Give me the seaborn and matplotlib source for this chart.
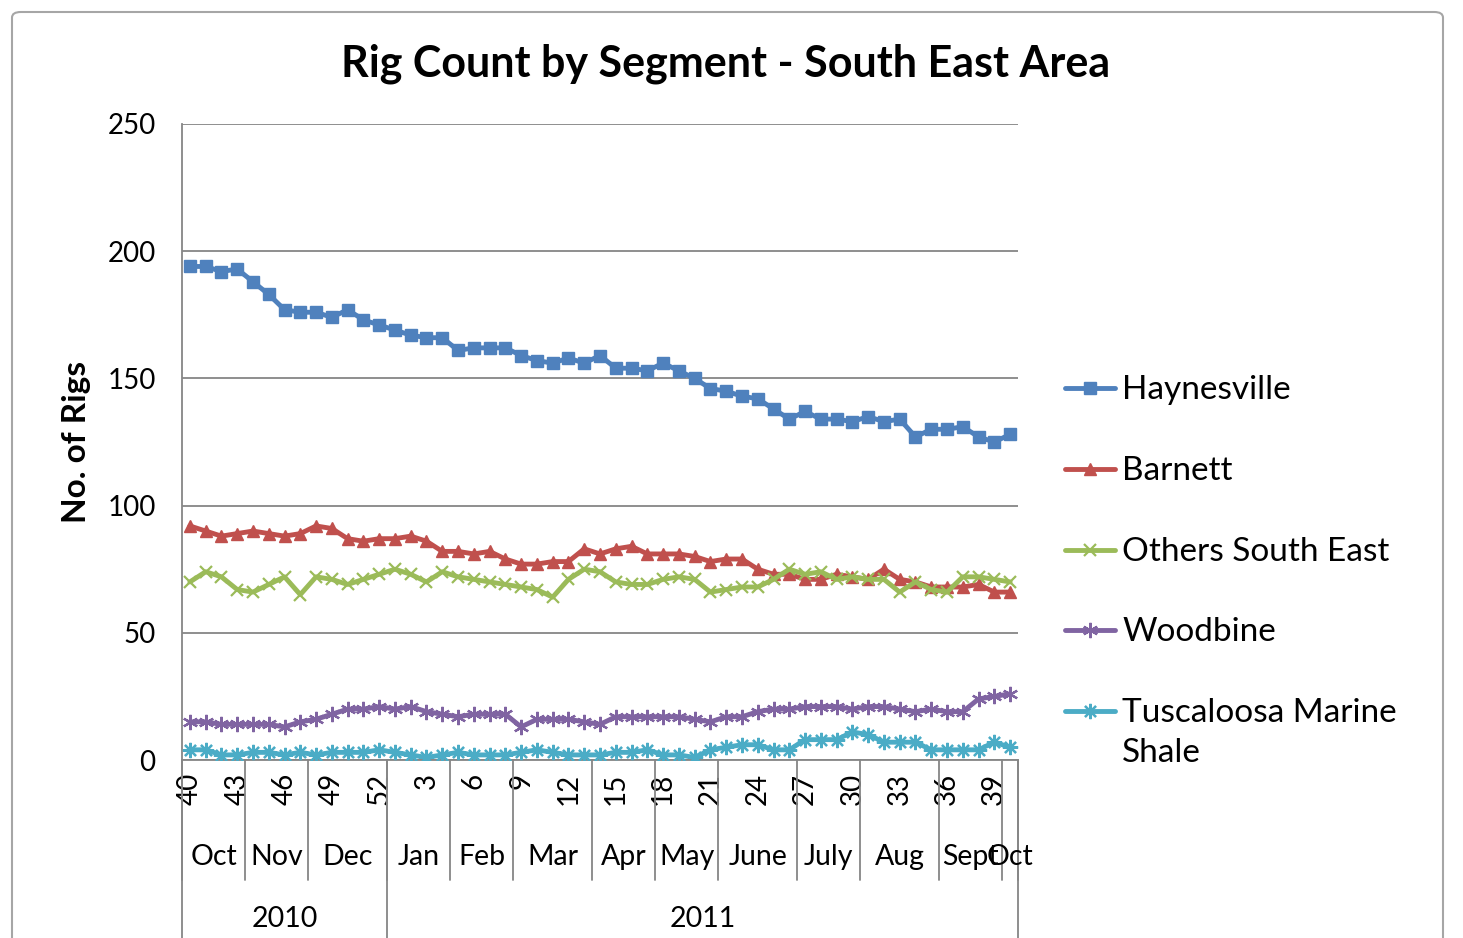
import numpy as np
import pandas as pd
import seaborn as sns
import matplotlib.pyplot as plt
import matplotlib.transforms as mtransforms
from matplotlib.lines import Line2D
from matplotlib.patches import FancyBboxPatch

# week numbers: 2010 wk 40..52, 2011 wk 1..40
weeks = list(range(40, 53)) + list(range(1, 41))

haynesville = [194, 194, 192, 193, 188, 183, 177, 176, 176, 174, 177, 173, 171,
               169, 167, 166, 166, 161, 162, 162, 162, 159, 157, 156, 158, 156,
               159, 154, 154, 153, 156, 153, 150, 146, 145, 143, 142, 138, 134,
               137, 134, 134, 133, 135, 133, 134, 127, 130, 130, 131, 127, 125, 128]
barnett = [92, 90, 88, 89, 90, 89, 88, 89, 92, 91, 87, 86, 87,
           87, 88, 86, 82, 82, 81, 82, 79, 77, 77, 78, 78, 83,
           81, 83, 84, 81, 81, 81, 80, 78, 79, 79, 75, 73, 73,
           71, 71, 73, 72, 71, 75, 71, 70, 68, 68, 68, 69, 66, 66]
others_se = [70, 74, 72, 67, 66, 69, 72, 65, 72, 71, 69, 71, 73,
             75, 73, 70, 74, 72, 71, 70, 69, 68, 67, 64, 71, 75,
             74, 70, 69, 69, 71, 72, 71, 66, 67, 68, 68, 71, 75,
             73, 74, 71, 72, 71, 71, 66, 70, 67, 66, 72, 72, 71, 70]
woodbine = [15, 15, 14, 14, 14, 14, 13, 15, 16, 18, 20, 20, 21,
            20, 21, 19, 18, 17, 18, 18, 18, 13, 16, 16, 16, 15,
            14, 17, 17, 17, 17, 17, 16, 15, 17, 17, 19, 20, 20,
            21, 21, 21, 20, 21, 21, 20, 19, 20, 19, 19, 24, 25, 26]
tuscaloosa = [4, 4, 2, 2, 3, 3, 2, 3, 2, 3, 3, 3, 4,
              3, 2, 1, 2, 3, 2, 2, 2, 3, 4, 3, 2, 2,
              2, 3, 3, 4, 2, 2, 1, 4, 5, 6, 6, 4, 4,
              8, 8, 8, 11, 10, 7, 7, 7, 4, 4, 4, 4, 7, 5]

segments = ["Haynesville", "Barnett", "Others South East", "Woodbine",
            "Tuscaloosa Marine\nShale"]
colors = ["#4F81BD", "#C0504D", "#9BBB59", "#8064A2", "#4BACC6"]

months = ["Oct", "Nov", "Dec", "Jan", "Feb", "Mar", "Apr", "May", "June",
          "July", "Aug", "Sept", "Oct"]
month_weeks = [4, 4, 5, 4, 4, 5, 4, 4, 5, 4, 5, 4, 1]
years = ["2010", "2011"]
year_weeks = [13, 40]

df = pd.DataFrame({"idx": np.arange(len(weeks))})
for name, vals in zip(segments, [haynesville, barnett, others_se, woodbine, tuscaloosa]):
    df[name] = vals

sns.set_style("white")
plt.rcParams["font.family"] = ["Lato", "DejaVu Sans"]
plt.rcParams.update({"text.color": "black", "axes.labelcolor": "black",
                     "xtick.color": "black", "ytick.color": "black"})

fig = plt.figure(figsize=(14.63, 9.38), dpi=100)
ax = fig.add_axes([182 / 1463, 1 - 760 / 938, (1018 - 182) / 1463, (760 - 124) / 938])

# marker styles (Excel-like)
styles = [
    dict(marker="s", markersize=8, mew=1),
    dict(marker="^", markersize=9, mew=1),
    dict(marker="x", markersize=9, mew=1.6),
    dict(marker=(6, 2, 0), markersize=11, mew=1.6),
    dict(marker=(8, 2, 0), markersize=11, mew=1.6),
]
for name, col, st in zip(segments, colors, styles):
    sns.lineplot(data=df, x="idx", y=name, ax=ax, color=col, linewidth=3.5,
                 markeredgecolor=col, markerfacecolor=col, zorder=3, **st)

grey = "#868686"
ax.set_xlim(-0.5, len(weeks) - 0.5)
ax.set_ylim(0, 250)
ax.set_yticks(range(0, 251, 50))
ax.yaxis.grid(True, color=grey, linewidth=1.3)
ax.set_axisbelow(True)
for s in ["top", "right"]:
    ax.spines[s].set_visible(False)
for s in ["left", "bottom"]:
    ax.spines[s].set_color(grey)
    ax.spines[s].set_linewidth(1.3)
ax.tick_params(axis="y", length=7, width=1.3, color=grey, labelcolor="black",
               labelsize=20, pad=12)
ax.set_xticks(range(0, len(weeks), 3))
ax.set_xticklabels([str(w) for w in weeks[::3]], rotation=90, fontsize=20)
ax.tick_params(axis="x", length=0, pad=9, labelcolor="black")
ax.set_xlabel("")
ax.set_ylabel("No. of Rigs", fontsize=24, fontweight="bold", labelpad=12)

# multi-level category axis: months and years
trans = mtransforms.blended_transform_factory(ax.transData, ax.transAxes)
b = np.concatenate([[0], np.cumsum(month_weeks)]) - 0.5
for i, m in enumerate(months):
    ax.text((b[i] + b[i + 1]) / 2, -0.153, m, transform=trans, ha="center",
            va="center", fontsize=20.5)
for x in b:
    ax.plot([x, x], [0, -0.189], transform=trans, color=grey, lw=1.3, clip_on=False)
yb = np.concatenate([[0], np.cumsum(year_weeks)]) - 0.5
for i, y in enumerate(years):
    ax.text((yb[i] + yb[i + 1]) / 2, -0.25, y, transform=trans, ha="center",
            va="center", fontsize=20.5)
for x in yb:
    ax.plot([x, x], [0, -0.3], transform=trans, color=grey, lw=1.3, clip_on=False)

fig.suptitle("Rig Count by Segment - South East Area", x=726 / 1463, y=1 - 64 / 938,
             va="center", fontsize=31, fontweight="bold")

# legend
leg_y = [388, 469, 550, 630, 711]
for name, col, st, ly in zip(segments, colors, styles, leg_y):
    yf = 1 - ly / 938
    fig.add_artist(Line2D([1065 / 1463, 1115 / 1463], [yf, yf], color=col, lw=3.5,
                          transform=fig.transFigure))
    fig.add_artist(Line2D([1090 / 1463], [yf], color=col, transform=fig.transFigure,
                          markeredgecolor=col, markerfacecolor=col, **st))
    fig.text(1122 / 1463, yf + 13 / 938, name, ha="left", va="top", fontsize=24,
             linespacing=1.4)

# chart border
fig.add_artist(FancyBboxPatch((12 / 1463, -0.05), 1431 / 1463, 1.05 - 12 / 938,
                              boxstyle="round,pad=0,rounding_size=0.006",
                              transform=fig.transFigure, fill=False,
                              edgecolor="#A6A6A6", linewidth=1.5))

fig.savefig("out.png", dpi=100)
